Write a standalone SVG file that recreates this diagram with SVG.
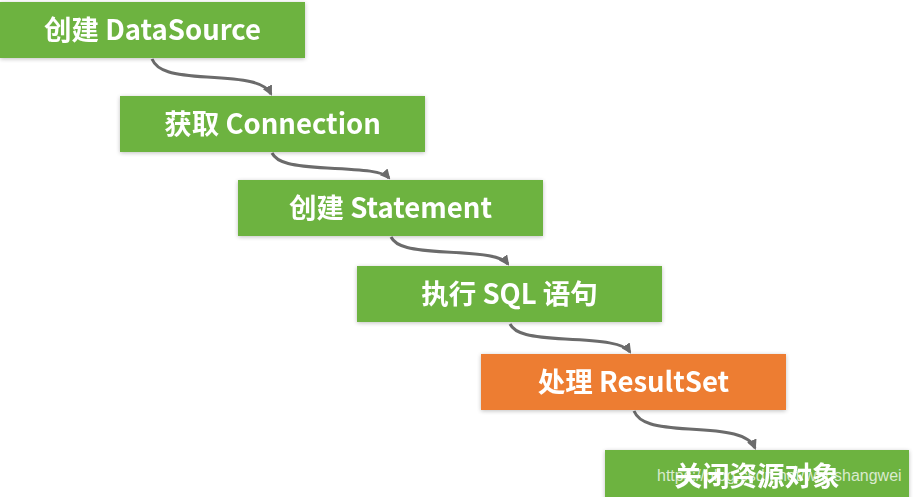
<svg xmlns="http://www.w3.org/2000/svg" width="914" height="497" viewBox="0 0 914 497">
<defs>
<style>
.box{fill:#6db33f;}
.hl{fill:#ed7d31;}
.lbl{font-family:"Noto Sans CJK SC","Noto Sans",sans-serif;font-size:27.5px;font-weight:600;fill:#ffffff;text-anchor:middle;dominant-baseline:central;}
.con{fill:none;stroke:#6b6b6b;stroke-width:3;marker-end:url(#ah);}
.wm{font-family:"Liberation Sans",Arial,sans-serif;font-size:16px;fill:#ffffff;fill-opacity:0.75;}
</style>
<marker id="ah" viewBox="0 0 10 10" refX="8" refY="5" markerWidth="3.4" markerHeight="3.4" orient="auto" markerUnits="strokeWidth">
<path d="M0,0 L10,5 L0,10 z" fill="#6b6b6b"/>
</marker>
<filter id="sh" x="-5%" y="-20%" width="110%" height="140%">
<feGaussianBlur in="SourceAlpha" stdDeviation="2"/>
<feOffset dx="0" dy="1" result="b"/>
<feComponentTransfer><feFuncA type="linear" slope="0.25"/></feComponentTransfer>
<feMerge><feMergeNode/><feMergeNode in="SourceGraphic"/></feMerge>
</filter>
</defs>
<rect width="914" height="497" fill="#ffffff"/>
<g id="connectors">
<path class="con" d="M152,59 c5,12 20,16 55,18 c38,2 58,5 64,17"/>
<path class="con" d="M272,153 c5,10 20,13 55,15 c38,2 56,3 62,10"/>
<path class="con" d="M391,237 c5,10 20,13 55,15 c38,2 56,4 62,12"/>
<path class="con" d="M510,324 c5,10 20,13 55,15 c38,2 59,4 65,13"/>
<path class="con" d="M634,411 c5,12 20,16 55,18 c38,2 60,5 66,19"/>
</g>
<g id="n1" filter="url(#sh)"><rect class="box" x="0" y="2" width="305" height="56"/><text class="lbl" x="152.5" y="28">创建 DataSource</text></g>
<g id="n2" filter="url(#sh)"><rect class="box" x="120" y="96" width="305" height="56"/><text class="lbl" x="272.5" y="122">获取 Connection</text></g>
<g id="n3" filter="url(#sh)"><rect class="box" x="238" y="180" width="305" height="56"/><text class="lbl" x="390.5" y="206">创建 Statement</text></g>
<g id="n4" filter="url(#sh)"><rect class="box" x="357" y="266" width="305" height="56"/><text class="lbl" x="509.5" y="292">执行 SQL 语句</text></g>
<g id="n5" filter="url(#sh)"><rect class="hl" x="481" y="354" width="305" height="56"/><text class="lbl" x="633.5" y="380">处理 ResultSet</text></g>
<g id="n6" filter="url(#sh)"><rect class="box" x="605" y="450" width="304" height="60"/><text class="lbl" x="757" y="474">关闭资源对象</text></g>
<text class="wm" x="657" y="481">https://blog.csdn.net/wanshangwei</text>
</svg>
